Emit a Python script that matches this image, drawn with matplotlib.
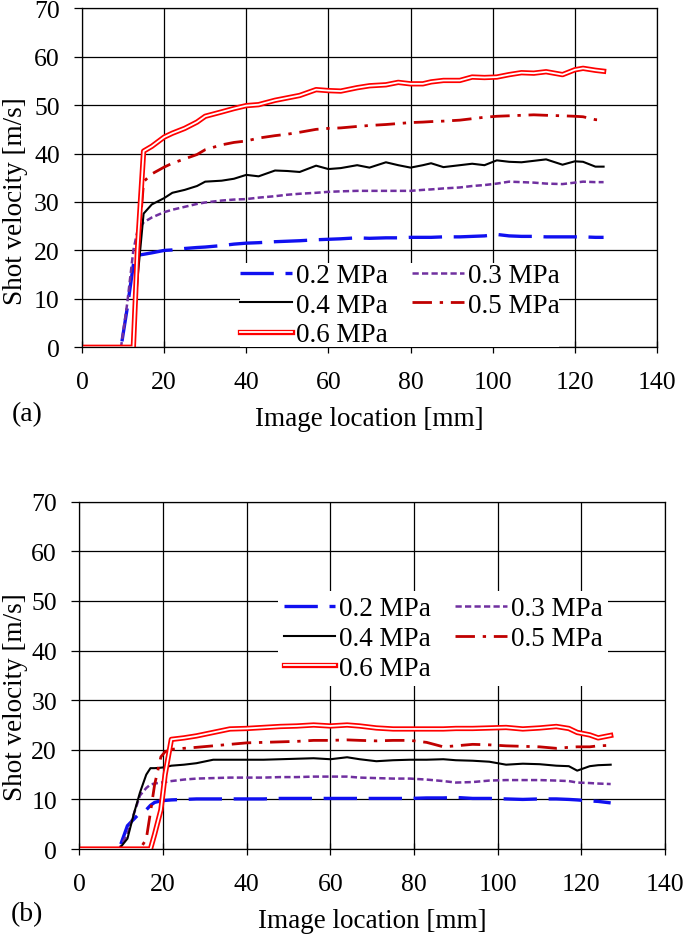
import numpy as np
import matplotlib
matplotlib.use("Agg")
import matplotlib.pyplot as plt
import matplotlib.patheffects as pe

plt.rcParams['font.family'] = ['Liberation Serif', 'DejaVu Serif']

labels = ["0.2 MPa", "0.3 MPa", "0.4 MPa", "0.5 MPa", "0.6 MPa"]

# panel (a)
x_a = [0, 9.5, 11, 12.5, 13.5, 15, 17, 20, 22, 25, 28, 30, 34, 37, 40, 43, 47, 50, 53, 57,
       60, 63, 67, 70, 74, 77, 80, 83, 85, 88, 92, 95, 98, 101, 104, 107, 110, 113, 117,
       120, 122, 125, 127]
v_a_02 = [0, 0, 8, 17, 19.0, 19.2, 19.5, 20.0, 20.1, 20.4, 20.6, 20.7, 21.0, 21.3, 21.5, 21.6,
          21.8, 21.9, 22.0, 22.2, 22.3, 22.4, 22.6, 22.5, 22.6, 22.6, 22.7, 22.7, 22.7, 22.8,
          22.8, 22.9, 23.0, 23.3, 23.0, 22.9, 22.9, 22.8, 22.8, 22.8, 22.8, 22.7, 22.7]
v_a_03 = [0, 0, 9, 20, 24, 25.8, 26.8, 27.9, 28.4, 29.0, 29.6, 29.9, 30.3, 30.5, 30.6, 30.9,
          31.2, 31.5, 31.7, 31.9, 32.1, 32.2, 32.3, 32.3, 32.3, 32.3, 32.3, 32.5, 32.6, 32.8,
          33.0, 33.3, 33.5, 33.8, 34.2, 34.1, 34.0, 33.8, 33.7, 34.0, 34.2, 34.1, 34.1]
v_a_04 = [0, 0, 0, 0, 14, 27.6, 29.5, 30.8, 31.9, 32.5, 33.3, 34.2, 34.4, 34.8, 35.6, 35.3,
          36.5, 36.4, 36.2, 37.5, 36.8, 37.0, 37.6, 37.1, 38.2, 37.6, 37.1, 37.6, 38.0, 37.2,
          37.6, 37.9, 37.6, 38.6, 38.3, 38.2, 38.5, 38.8, 37.7, 38.4, 38.3, 37.3, 37.3]
v_a_05 = [0, 0, 0, 0, 18, 34.2, 35.8, 37.2, 38.0, 38.9, 39.8, 40.8, 41.8, 42.3, 42.6, 43.2,
          43.7, 44.0, 44.4, 45.0, 45.2, 45.3, 45.6, 45.8, 46.0, 46.2, 46.4, 46.5, 46.6, 46.7,
          46.9, 47.2, 47.5, 47.7, 47.8, 47.9, 48.0, 47.9, 47.8, 47.7, 47.6, 47.0, 46.9]
v_a_06 = [0, 0, 0, 0, 20, 40.5, 41.5, 43.4, 44.2, 45.2, 46.5, 47.7, 48.6, 49.3, 49.9, 50.1,
          51.0, 51.5, 52.0, 53.2, 53.0, 52.9, 53.6, 54.0, 54.2, 54.7, 54.4, 54.4, 54.8, 55.1,
          55.1, 55.8, 55.7, 55.8, 56.3, 56.7, 56.6, 56.9, 56.3, 57.3, 57.6, 57.2, 57.0]

# panel (b)
x_b = [0, 9.5, 11.5, 13, 14.5, 16, 17, 18, 19.5, 20.5, 22, 25, 28, 32, 36, 40, 44, 48, 52, 56,
       60, 64, 67, 71, 75, 79, 83, 87, 90, 94, 98, 102, 106, 110, 114, 117, 119, 122, 124, 127]
v_b_02 = [0, 0, 4.7, 6.0, 7.3, 7.9, 8.8, 9.4, 9.7, 9.8, 9.9, 10.0, 10.1, 10.1, 10.1, 10.1,
          10.1, 10.2, 10.2, 10.2, 10.2, 10.2, 10.2, 10.2, 10.2, 10.2, 10.3, 10.3, 10.4, 10.2,
          10.2, 10.1, 10.0, 10.1, 10.1, 10.0, 9.9, 9.7, 9.6, 9.3]
v_b_03 = [0, 0, 3, 7, 10.8, 12.3, 13.0, 13.2, 13.4, 13.5, 13.7, 14.0, 14.2, 14.3, 14.4, 14.4,
          14.4, 14.5, 14.5, 14.6, 14.6, 14.6, 14.4, 14.3, 14.2, 14.2, 14.0, 13.7, 13.4, 13.5,
          13.8, 13.9, 13.9, 13.9, 13.8, 13.7, 13.4, 13.3, 13.2, 13.1]
v_b_04 = [0, 0, 2.1, 7, 11.4, 15.0, 16.3, 16.3, 16.4, 16.5, 16.8, 17.0, 17.3, 18.0, 18.0, 18.0,
          18.0, 18.1, 18.2, 18.3, 18.1, 18.5, 18.1, 17.7, 17.9, 18.0, 18.0, 18.1, 17.9, 17.8,
          17.6, 17.0, 17.2, 17.1, 16.8, 16.7, 15.8, 16.7, 16.9, 17.0]
v_b_05 = [0, 0, 0, 0, 0, 2, 7.4, 13, 18.6, 19.6, 20.1, 20.3, 20.5, 20.8, 21.1, 21.4, 21.5,
          21.6, 21.7, 21.9, 21.9, 22.0, 21.9, 21.8, 21.9, 21.9, 21.5, 20.6, 20.8, 21.1, 21.0,
          20.8, 20.7, 20.6, 20.3, 20.5, 20.6, 20.6, 20.8, 20.9]
v_b_06 = [0, 0, 0, 0, 0, 0, 0, 3, 7.9, 15, 22.1, 22.4, 22.8, 23.5, 24.2, 24.3, 24.5, 24.7,
          24.8, 25.0, 24.8, 25.0, 24.8, 24.4, 24.2, 24.2, 24.2, 24.2, 24.3, 24.3, 24.4, 24.5,
          24.2, 24.4, 24.7, 24.3, 23.5, 23.0, 22.4, 22.9]

styles = [
    dict(color='#1010F0', lw=2.4, dashes=(10, 3.5)),
    dict(color='#7030A0', lw=1.8, dashes=(2.5, 1.3)),
    dict(color='black', lw=1.5),
    dict(color='#C00000', lw=2.0, dashes=(7, 2.8, 1.2, 2.8)),
    dict(color='white', lw=1.3,
         path_effects=[pe.Stroke(linewidth=3.8, foreground='#FF0000'), pe.Normal()]),
]

fig = plt.figure(figsize=(6.85, 9.37), dpi=100)
ax1 = fig.add_axes([0.1197, 0.6283, 0.8394, 0.3618])
ax2 = fig.add_axes([0.1158, 0.0928, 0.8551, 0.3707])


def draw(ax, x, series, leg_loc, leg_anchor, leg_pad, ylab_x, ylab_y):
    lines = []
    for v, lab, st in zip(series, labels, styles):
        ln, = ax.plot(x, v, label=lab, **st)
        lines.append(ln)
    ax.set_xlim(0, 140)
    ax.set_ylim(0, 70)
    ax.set_xticks(np.arange(0, 141, 20))
    ax.set_yticks(np.arange(0, 71, 10))
    ax.grid(True, color='black', lw=0.9)
    ax.set_axisbelow(True)
    for s in ax.spines.values():
        s.set_linewidth(0.9)
    ax.tick_params(axis='x', direction='inout', length=9, width=0.9, labelsize=18.5, pad=12.5)
    ax.tick_params(axis='y', direction='out', length=6, width=0.9, labelsize=18.5, pad=10)
    ax.set_xlabel("Image location [mm]", fontsize=19.5, labelpad=9.3)
    ax.set_ylabel("Shot velocity [m/s]", fontsize=19.5)
    ax.yaxis.set_label_coords(ylab_x, ylab_y)
    order = [0, 2, 4, 1, 3]
    leg = ax.legend([lines[i] for i in order], [labels[i] for i in order], ncol=2,
                    loc=leg_loc, bbox_to_anchor=leg_anchor, fontsize=19.5,
                    handlelength=1.9, handletextpad=0.15, columnspacing=0.9,
                    labelspacing=0.17, borderpad=leg_pad, borderaxespad=0,
                    fancybox=False, framealpha=1, edgecolor='none')
    leg.set_zorder(5)


draw(ax1, x_a, [v_a_02, v_a_03, v_a_04, v_a_05, v_a_06], 'lower center', (0.553, 0.0), 0.0,
     -0.094, 0.435)
draw(ax2, x_b, [v_b_02, v_b_03, v_b_04, v_b_05, v_b_06], 'center', (0.621, 0.606), 0.2,
     -0.0876, 0.44)

fig.text(27 / 685, 1 - 415 / 937, "(a)", fontsize=20, ha='center', va='center')
fig.text(27 / 685, 1 - 915 / 937, "(b)", fontsize=20, ha='center', va='center')

fig.savefig("out.png", dpi=100)
